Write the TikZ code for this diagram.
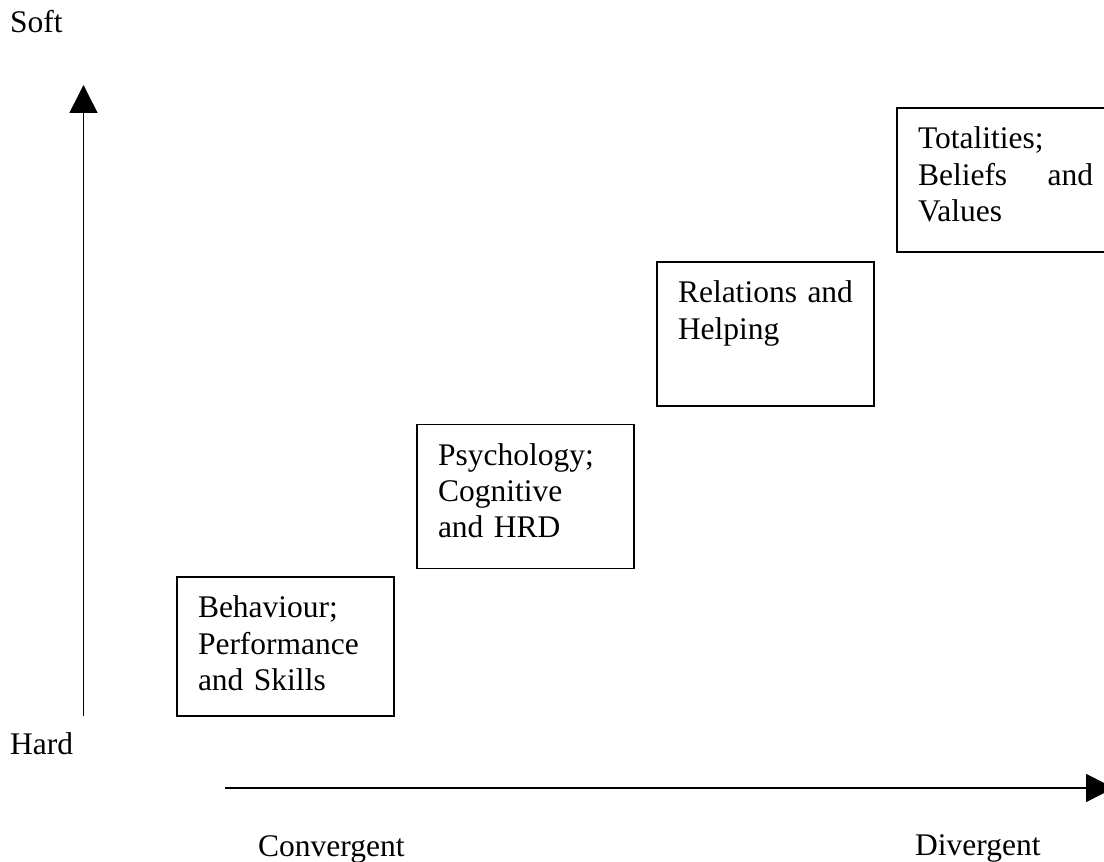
\documentclass[tikz,border=0pt]{standalone}
\usepackage{fontspec}
\setmainfont{Liberation Serif}
\usepackage{tikz}
\usetikzlibrary{arrows.meta, positioning}
\tikzstyle{stage} = [rectangle, draw=black, line width=1.8pt, minimum width=217pt, minimum height=144pt, text width=175pt, inner xsep=21pt, inner ysep=0pt, text height=41pt, text depth=103pt, align=left]
\tikzstyle{axis} = [line width=1.5pt, -{Triangle[length=28pt, width=28pt]}]
\tikzstyle{axistext} = [inner sep=0pt, anchor=base west]

\begin{document}
\begin{tikzpicture}[x=1pt, y=1pt, node distance=240pt, font=\fontsize{31.5}{36.2}\selectfont]
		\useasboundingbox (0,0) rectangle (1104,862);
		
		\node (behav) [stage, minimum height=139pt, text depth=98pt] at (285.5,215.5) {Behaviour;\\ Performance\\ and Skills};
		\node (psych) [stage, right of=behav, yshift=150pt] {Psychology;\\ Cognitive\\ and HRD};
		\node (relat) [stage, right of=psych, yshift=162.5pt] {Relations and\\ Helping};
		\node (total) [stage, right of=relat, yshift=154pt] {Totalities;\\ Beliefs\hfill and\\ Values};
		
		\coordinate (hardend) at (83.5,146);
		\coordinate (softend) at (83.5,777);
		\coordinate (convend) at (225,74);
		\coordinate (divend) at (1114,74);
		
		\node (soft) [axistext] at (10,829) {Soft};
		\node (hard) [axistext] at (10,107) {Hard};
		\node (conv) [axistext] at (258,5) {Convergent};
		\node (div) [axistext] at (915,6) {Divergent};
		
		\draw [axis] (hardend) -- (softend);
		\draw [axis] (convend) -- (divend);
	\end{tikzpicture}
\end{document}
